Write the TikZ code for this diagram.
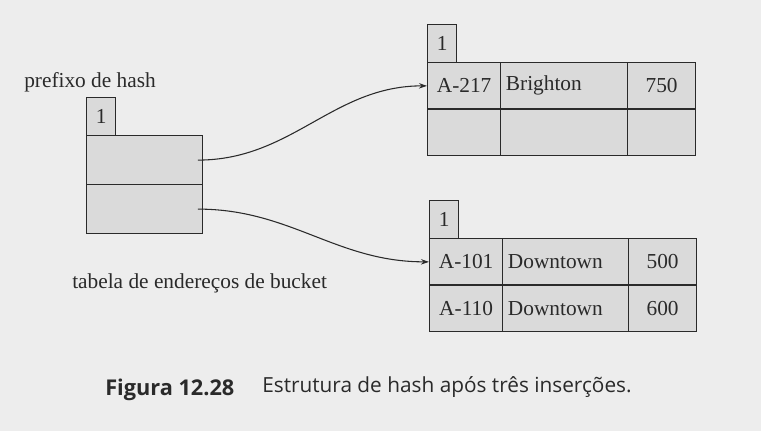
\documentclass[tikz,border=0pt]{standalone}
\usepackage{fontspec}
\setmainfont{Liberation Serif}
\newfontfamily\capfont{Open Sans}
\usetikzlibrary{arrows.meta}
\definecolor{paper}{HTML}{EDEDED}
\definecolor{cellgray}{HTML}{DADADA}
\definecolor{ink}{HTML}{2A2A2A}
\begin{document}
\begin{tikzpicture}[x=0.75pt,y=-0.75pt,
  every node/.style={text=ink},
  serif/.style={font=\fontsize{16}{19}\selectfont},
  label/.style={serif, anchor=base west, inner sep=0pt},
  box/.style={draw=ink, fill=cellgray, line width=0.9pt, inner sep=0pt, anchor=north west, serif},
  num/.style={box, minimum width=21.75pt, minimum height=28.5pt},
  dircell/.style={box, minimum width=87pt, minimum height=36.75pt},
  cA/.style={box, minimum width=54.75pt, minimum height=34.875pt},
  cB/.style={box, text width=87.25pt, inner xsep=4pt, align=left, minimum height=34.875pt},
  cC/.style={box, minimum width=51pt, minimum height=34.875pt},
  conn/.style={draw=ink, line width=0.8pt, -{Stealth[length=6pt,width=4pt]}},
  capt/.style={anchor=base west, inner sep=0pt, font=\capfont\fontsize{15.6}{18}\selectfont}
]
\fill[paper] (0,0) rectangle (761,431);
\useasboundingbox (0,0) rectangle (761,431);

% directory
\node[label] (pref) at (24,88) {prefixo de hash};
\node[num] (pn) at (86,97) {1};
\node[dircell] (d1) at (86,135) {};
\node[dircell] (d2) at (86,184) {};
\node[label] (tab) at (72,288) {tabela de endereços de bucket};

% top bucket
\node[num] (tn) at (427,24) {1};
\node[cA] (t11) at (427,62) {A-217};
\node[cB] (t12) at (500,62) {Brighton};
\node[cC] (t13) at (627,62) {750};
\node[cA] (t21) at (427,108.5) {};
\node[cB] (t22) at (500,108.5) {};
\node[cC] (t23) at (627,108.5) {};

% bottom bucket
\node[num] (un) at (429,200) {1};
\node[cA] (u11) at (429,238) {A-101};
\node[cB] (u12) at (502,238) {Downtown};
\node[cC] (u13) at (628,238) {500};
\node[cA] (u21) at (429,284.5) {A-110};
\node[cB] (u22) at (502,284.5) {Downtown};
\node[cC] (u23) at (628,284.5) {600};

% pointers
\draw[conn] ([xshift=-4pt]d1.east) to[out=0,in=180] (t11.west);
\draw[conn] ([xshift=-4pt]d2.east) to[out=0,in=180] (u11.west);

% caption
\node[capt, font=\capfont\bfseries\fontsize{16.3}{18}\selectfont] (fig) at (105,395) {Figura 12.28};
\node[capt] (cap) at (262,392) {Estrutura de hash após três inserções.};
\end{tikzpicture}
\end{document}
